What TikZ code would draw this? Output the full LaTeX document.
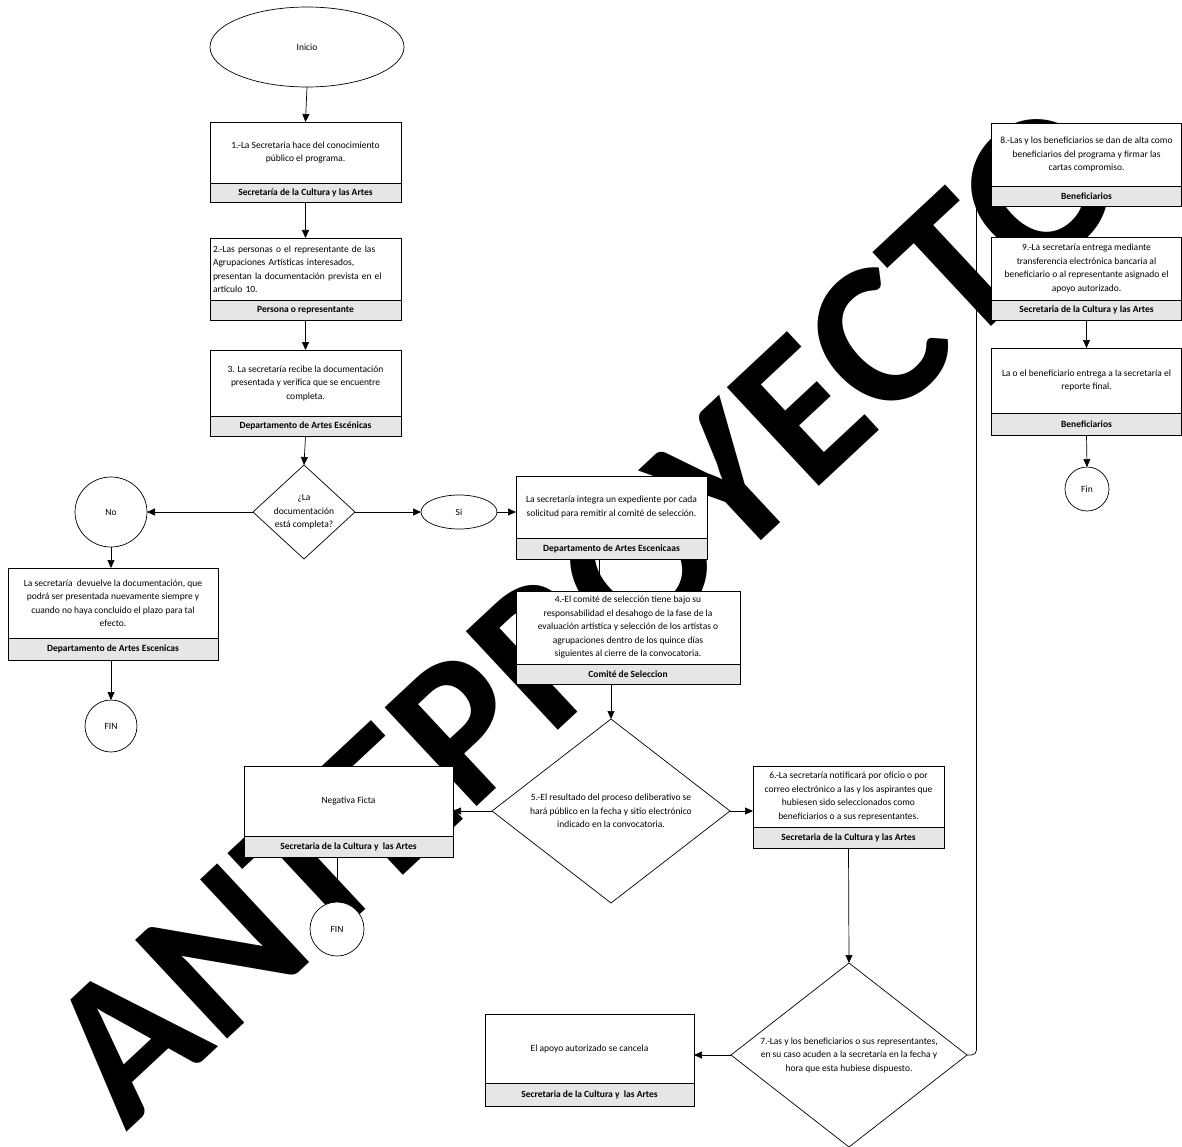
\documentclass[tikz,border=0pt]{standalone}
\usepackage{fontspec}
\setmainfont{Carlito}
\usetikzlibrary{shapes.geometric,arrows.meta,calc}
\definecolor{bandgray}{RGB}{230,230,230}
\begin{document}
\begin{tikzpicture}[x=1pt,y=-1pt,
  txt/.style={font=\fontsize{9.5}{13.5}\selectfont},
  procbox/.style={draw=black, line width=0.7pt, fill=white, inner sep=0pt, outer sep=0pt, align=center, anchor=north west, txt},
  bandbox/.style={draw=black, line width=0.7pt, fill=bandgray, inner sep=0pt, outer sep=0pt, anchor=north west, font=\fontsize{9.5}{13.5}\selectfont\bfseries},
  termnode/.style={draw=black, line width=0.7pt, fill=white, shape=ellipse, inner sep=0pt, outer sep=0pt, txt},
  decision/.style={draw=black, line width=0.7pt, fill=white, shape=diamond, inner sep=0pt, outer sep=0pt, align=center, txt},
  conn/.style={draw=black, line width=0.7pt, -{Triangle[length=8pt,width=7pt]}},
  wmark/.style={inner sep=0pt, rotate=43, font=\fontsize{208}{208}\selectfont\bfseries},
]
\useasboundingbox (0,0) rectangle (1182,1147);
\fill[white] (0,0) rectangle (1182,1147);
\begin{scope}
\clip (0,0) rectangle (1182,1147);
\node[wmark] (wm) at (586,612) {ANTEPROYECTO};
\end{scope}

% left column
\node[termnode, minimum width=194, minimum height=80] (inicio) at (307,47) {Inicio};

\node[procbox, minimum width=191, minimum height=61] (b1) at (210,122) {1.-La Secretaria hace del conocimiento\\público el programa.};
\node[bandbox, minimum width=191, minimum height=19] (b1l) at (b1.south west) {Secretaría de la Cultura y las Artes};

\node[procbox, minimum width=191, minimum height=62, text width=185, align=left] (b2) at (210,238) {2.-Las personas o el representante de las\\Agrupaciones Artísticas interesados,\\presentan la documentación prevista en el\\artículo 10.};
\node[bandbox, minimum width=191, minimum height=20] (b2l) at (b2.south west) {Persona o representante};

\node[procbox, minimum width=191, minimum height=66] (b3) at (210,350) {3. La secretaría recibe la documentación\\presentada y verifica que se encuentre\\completa.};
\node[bandbox, minimum width=191, minimum height=20] (b3l) at (b3.south west) {Departamento de Artes Escénicas};

\node[decision, minimum width=102, minimum height=94, aspect=1.08] (d1) at (304,512) {¿La\\documentación\\está completa?};

\node[termnode, minimum width=72, minimum height=70] (no) at (111,512) {No};

\node[procbox, minimum width=210, minimum height=70] (dev) at (8,568) {La secretaría\ \ devuelve la documentación, que\\podrá ser presentada nuevamente siempre y\\cuando no haya concluido el plazo para tal\\efecto.};
\node[bandbox, minimum width=210, minimum height=22] (devl) at (dev.south west) {Departamento de Artes Escenicas};

\node[termnode, minimum width=52, minimum height=52] (fin1) at (111,726) {FIN};

% middle
\node[termnode, minimum width=76, minimum height=34] (si) at (459,512) {Si};

\node[procbox, minimum width=191, minimum height=62] (int) at (516,476) {La secretaría integra un expediente por cada\\solicitud para remitir al comité de selección.};
\node[bandbox, minimum width=191, minimum height=21] (intl) at (int.south west) {Departamento de Artes Escenicaas};

\node[procbox, minimum width=224, minimum height=73] (b4) at (516,591) {4.-El comité de selección tiene bajo su\\responsabilidad el desahogo de la fase de la\\evaluación artística y selección de los artistas o\\agrupaciones dentro de los quince días\\siguientes al cierre de la convocatoria.};
\node[bandbox, minimum width=224, minimum height=20] (b4l) at (b4.south west) {Comité de Seleccion};

\node[decision, minimum width=238, minimum height=184, aspect=1.3] (d5) at (611,811) {5.-El resultado del proceso deliberativo se\\hará público en la fecha y sitio electrónico\\indicado en la convocatoria.};

\node[procbox, minimum width=209, minimum height=70] (neg) at (244,766) {Negativa Ficta};
\node[bandbox, minimum width=209, minimum height=21] (negl) at (neg.south west) {Secretaria de la Cultura y\ \ las Artes};

\node[termnode, minimum width=54, minimum height=54] (fin2) at (337,929) {FIN};

\node[procbox, minimum width=191, minimum height=61] (b6) at (753,766) {6.-La secretaría notificará por oficio o por\\correo electrónico a las y los aspirantes que\\hubiesen sido seleccionados como\\beneficiarios o a sus representantes.};
\node[bandbox, minimum width=191, minimum height=21] (b6l) at (b6.south west) {Secretaria de la Cultura y las Artes};

\node[decision, minimum width=236, minimum height=184, aspect=1.28] (d7) at (849,1055) {7.-Las y los beneficiarios o sus representantes,\\en su caso acuden a la secretaría en la fecha y\\hora que esta hubiese dispuesto.};

\node[procbox, minimum width=209, minimum height=69] (can) at (485,1014) {El apoyo autorizado se cancela};
\node[bandbox, minimum width=209, minimum height=23] (canl) at (can.south west) {Secretaria de la Cultura y\ \ las Artes};

% right column
\node[procbox, minimum width=190, minimum height=63] (b8) at (991.5,123) {8.-Las y los beneficiarios se dan de alta como\\beneficiarios del programa y firmar las\\cartas compromiso.};
\node[bandbox, minimum width=190, minimum height=20] (b8l) at (b8.south west) {Beneficiarios};

\node[procbox, minimum width=190, minimum height=63] (b9) at (991.5,237) {9.-La secretaría entrega mediante\\transferencia electrónica bancaria al\\beneficiario o al representante asignado el\\apoyo autorizado.};
\node[bandbox, minimum width=190, minimum height=20] (b9l) at (b9.south west) {Secretaria de la Cultura y las Artes};

\node[procbox, minimum width=190, minimum height=65] (fb) at (991.5,348) {La o el beneficiario entrega a la secretaría el\\reporte final.};
\node[bandbox, minimum width=190, minimum height=22] (fbl) at (fb.south west) {Beneficiarios};

\node[termnode, minimum width=44, minimum height=44] (fin3) at (1087,489) {Fin};

\coordinate (b8in) at ($(b8.north west)!0.5!(b8l.south west)$);

% connectors
\draw[conn] (inicio.south) -- (b1.north);
\draw[conn] (b1l.south) -- (b2.north);
\draw[conn] (b2l.south) -- (b3.north);
\draw[conn] (b3l.south) -- (d1.north);
\draw[conn] (d1.west) -- (d1.west -| no.east);
\draw[conn] (d1.east) -- (si.west);
\draw[conn] (no.south) -- (no.south |- dev.north);
\draw[conn] (no.south |- devl.south) -- (fin1.north);
\draw[conn] (si.east) -- (si.east -| int.west);
\draw[conn] ([xshift=-12pt]intl.south) -- ([xshift=-12pt]intl.south |- b4.north);
\draw[conn] (d5.north |- b4l.south) -- (d5.north);
\draw[conn] (d5.west) -- (d5.west -| neg.east);
\draw[conn] (d5.east) -- (d5.east -| b6.west);
\draw[conn] (fin2.north |- negl.south) -- (fin2.north);
\draw[conn] (b6l.south) -- (d7.north);
\draw[conn] (d7.west) -- (d7.west -| can.east);
\draw[conn, rounded corners=5pt] (d7.east) -| ([xshift=-15pt]b8in) -- (b8in);
\draw[conn] (b8l.south) -- (b9.north);
\draw[conn] (b9l.south) -- (fb.north);
\draw[conn] (fbl.south) -- (fin3.north);
\end{tikzpicture}
\end{document}
